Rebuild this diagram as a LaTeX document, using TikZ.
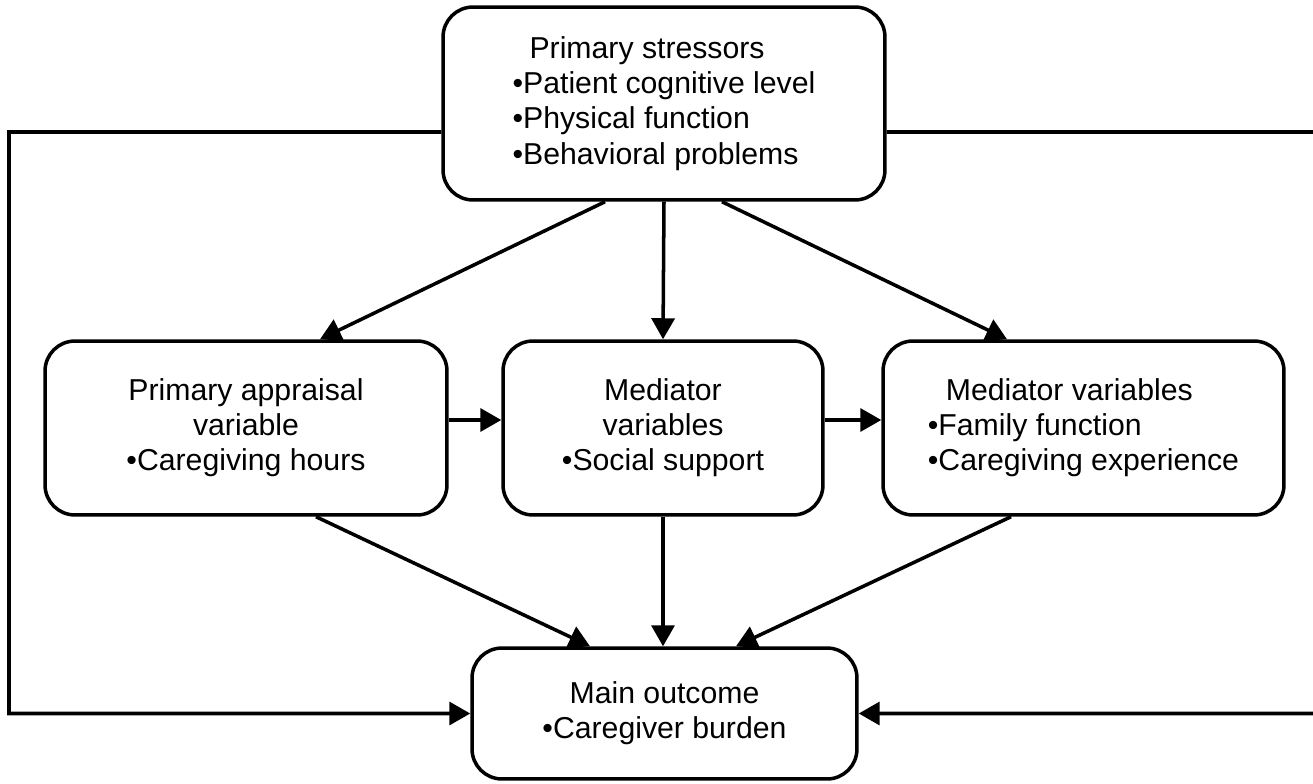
\documentclass[tikz,border=0pt]{standalone}
\usepackage{fontspec}
\setmainfont{Liberation Sans}
\usetikzlibrary{arrows.meta}

\begin{document}
\begin{tikzpicture}[x=0.02cm, y=-0.02cm,
    box/.style={draw, line width=2pt, rounded corners=0.6cm, inner sep=0pt,
                font=\fontsize{17.2}{20}\selectfont},
    arr/.style={line width=2pt, -{Triangle[length=0.42cm,width=0.46cm]}}]
    \useasboundingbox (0,0) rectangle (1313,784);

    \node[box, minimum width=8.84cm, minimum height=3.86cm, align=left] (stress) at (664,103.5)
        {\hspace*{0.34cm}Primary stressors\\•Patient cognitive level\\•Physical function\\•Behavioral problems};
    \node[box, minimum width=8.04cm, minimum height=3.48cm, align=center] (appr) at (246,428)
        {Primary appraisal\\variable\\•Caregiving hours};
    \node[box, minimum width=6.4cm, minimum height=3.48cm, align=center] (med1) at (663,428)
        {Mediator\\variables\\•Social support};
    \node[box, minimum width=8.02cm, minimum height=3.48cm, align=left] (med2) at (1083.5,428)
        {\hspace*{0.36cm}Mediator variables\\•Family function\\•Caregiving experience};
    \node[box, minimum width=7.7cm, minimum height=2.62cm, align=center] (outc) at (664.5,713.5)
        {Main outcome\\•Caregiver burden};

    \coordinate (ltop) at (9,132);
    \coordinate (rtop) at (1320,132);

    \draw[arr] ([xshift=-1.18cm]stress.south) -- ([xshift=1.48cm]appr.north);
    \draw[arr] (stress.south) -- (med1.north);
    \draw[arr] ([xshift=1.16cm]stress.south) -- ([xshift=-1.53cm]med2.north);
    \draw[arr] ([yshift=0.16cm]appr.east) -- ([yshift=0.16cm]med1.west);
    \draw[arr] ([yshift=0.16cm]med1.east) -- ([yshift=0.16cm]med2.west);
    \draw[arr] ([xshift=1.4cm]appr.south) -- ([xshift=-1.49cm]outc.north);
    \draw[arr] (med1.south) -- (outc.north -| med1.south);
    \draw[arr] ([xshift=-1.45cm]med2.south) -- ([xshift=1.43cm]outc.north);
    \draw[arr] ([yshift=-0.57cm]stress.west) -- (ltop) |- (outc.west);
    \draw[arr] ([yshift=-0.57cm]stress.east) -- (rtop) |- (outc.east);
\end{tikzpicture}
\end{document}
